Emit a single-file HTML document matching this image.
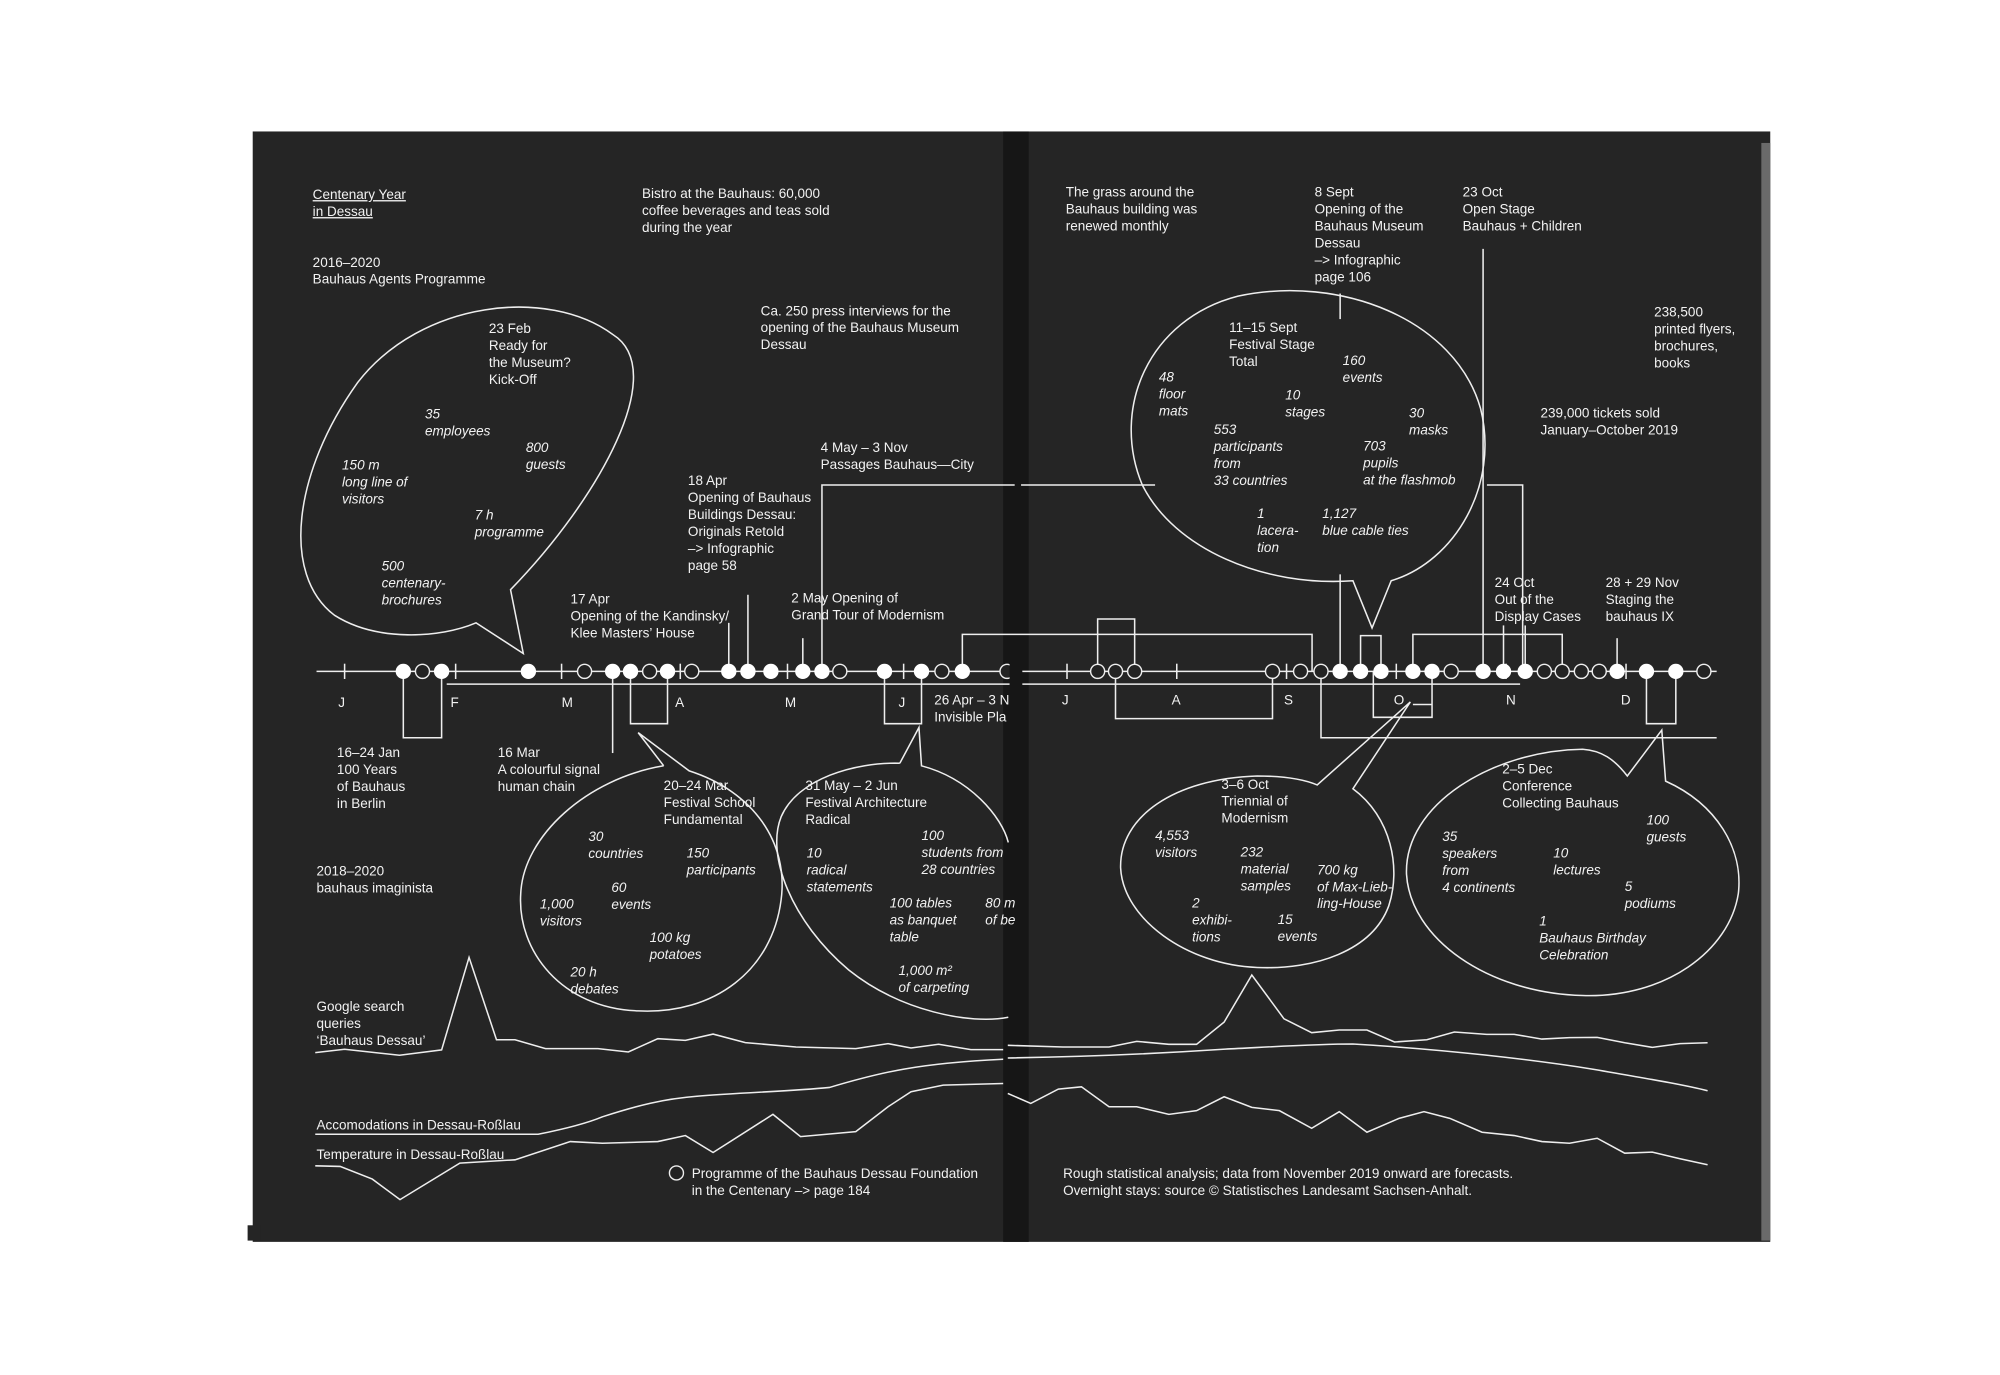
<!DOCTYPE html>
<html><head><meta charset="utf-8"><style>
html,body{margin:0;padding:0;background:#fff;width:2000px;height:1375px;overflow:hidden}
svg{display:block}
text{font-family:"Liberation Sans",Arial,sans-serif;font-size:10.6px;fill:#f2f2f2}
.i{font-style:italic}
.l{fill:none;stroke:#eee;stroke-width:1.2}
.f{fill:#fff;stroke:#fff;stroke-width:1}
.o{fill:#232323;stroke:#eee;stroke-width:1.1}
</style></head><body>
<svg width="2000" height="1375" viewBox="0 0 1567 1077.3" preserveAspectRatio="none" xmlns="http://www.w3.org/2000/svg">
<rect x="198" y="103" width="1189" height="870" fill="#252525"/>
<rect x="194" y="960" width="10" height="12" fill="#252525"/>
<rect x="1380" y="112" width="7" height="860" fill="#6a6a6a"/>
<rect x="786" y="103" width="20" height="870" fill="#161616"/>

<text x="245" y="156" text-decoration="underline"><tspan x="245">Centenary Year</tspan><tspan x="245" dy="13.3">in Dessau</tspan></text>
<text x="245" y="209"><tspan x="245">2016–2020</tspan><tspan x="245" dy="13.3">Bauhaus Agents Programme</tspan></text>
<text x="503" y="155"><tspan x="503">Bistro at the Bauhaus: 60,000</tspan><tspan x="503" dy="13.3">coffee beverages and teas sold</tspan><tspan x="503" dy="13.3">during the year</tspan></text>
<text x="596" y="247"><tspan x="596">Ca. 250 press interviews for the</tspan><tspan x="596" dy="13.3">opening of the Bauhaus Museum</tspan><tspan x="596" dy="13.3">Dessau</tspan></text>
<text x="383" y="261"><tspan x="383">23 Feb</tspan><tspan x="383" dy="13.3">Ready for</tspan><tspan x="383" dy="13.3">the Museum?</tspan><tspan x="383" dy="13.3">Kick-Off</tspan></text>
<text class="i" x="333" y="328"><tspan x="333">35</tspan><tspan x="333" dy="13.3">employees</tspan></text>
<text class="i" x="412" y="354"><tspan x="412">800</tspan><tspan x="412" dy="13.3">guests</tspan></text>
<text class="i" x="268" y="368"><tspan x="268">150 m</tspan><tspan x="268" dy="13.3">long line of</tspan><tspan x="268" dy="13.3">visitors</tspan></text>
<text class="i" x="372" y="407"><tspan x="372">7 h</tspan><tspan x="372" dy="13.3">programme</tspan></text>
<text class="i" x="299" y="447"><tspan x="299">500</tspan><tspan x="299" dy="13.3">centenary-</tspan><tspan x="299" dy="13.3">brochures</tspan></text>
<text x="643" y="354"><tspan x="643">4 May – 3 Nov</tspan><tspan x="643" dy="13.3">Passages Bauhaus—City</tspan></text>
<text x="539" y="380"><tspan x="539">18 Apr</tspan><tspan x="539" dy="13.3">Opening of Bauhaus</tspan><tspan x="539" dy="13.3">Buildings Dessau:</tspan><tspan x="539" dy="13.3">Originals Retold</tspan><tspan x="539" dy="13.3">–&gt; Infographic</tspan><tspan x="539" dy="13.3">page 58</tspan></text>
<text x="447" y="473"><tspan x="447">17 Apr</tspan><tspan x="447" dy="13.3">Opening of the Kandinsky/</tspan><tspan x="447" dy="13.3">Klee Masters’ House</tspan></text>
<text x="620" y="472"><tspan x="620">2 May Opening of</tspan><tspan x="620" dy="13.3">Grand Tour of Modernism</tspan></text>
<text x="732" y="552"><tspan x="732">26 Apr – 3 N</tspan><tspan x="732" dy="13.3">Invisible Pla</tspan></text>
<text x="264" y="593"><tspan x="264">16–24 Jan</tspan><tspan x="264" dy="13.3">100 Years</tspan><tspan x="264" dy="13.3">of Bauhaus</tspan><tspan x="264" dy="13.3">in Berlin</tspan></text>
<text x="390" y="593"><tspan x="390">16 Mar</tspan><tspan x="390" dy="13.3">A colourful signal</tspan><tspan x="390" dy="13.3">human chain</tspan></text>
<text x="248" y="686"><tspan x="248">2018–2020</tspan><tspan x="248" dy="13.3">bauhaus imaginista</tspan></text>
<text x="520" y="619"><tspan x="520">20–24 Mar</tspan><tspan x="520" dy="13.3">Festival School</tspan><tspan x="520" dy="13.3">Fundamental</tspan></text>
<text class="i" x="461" y="659"><tspan x="461">30</tspan><tspan x="461" dy="13.3">countries</tspan></text>
<text class="i" x="538" y="672"><tspan x="538">150</tspan><tspan x="538" dy="13.3">participants</tspan></text>
<text class="i" x="479" y="699"><tspan x="479">60</tspan><tspan x="479" dy="13.3">events</tspan></text>
<text class="i" x="423" y="712"><tspan x="423">1,000</tspan><tspan x="423" dy="13.3">visitors</tspan></text>
<text class="i" x="509" y="738"><tspan x="509">100 kg</tspan><tspan x="509" dy="13.3">potatoes</tspan></text>
<text class="i" x="447" y="765"><tspan x="447">20 h</tspan><tspan x="447" dy="13.3">debates</tspan></text>
<text x="631" y="619"><tspan x="631">31 May – 2 Jun</tspan><tspan x="631" dy="13.3">Festival Architecture</tspan><tspan x="631" dy="13.3">Radical</tspan></text>
<text class="i" x="722" y="658"><tspan x="722">100</tspan><tspan x="722" dy="13.3">students from</tspan><tspan x="722" dy="13.3">28 countries</tspan></text>
<text class="i" x="632" y="672"><tspan x="632">10</tspan><tspan x="632" dy="13.3">radical</tspan><tspan x="632" dy="13.3">statements</tspan></text>
<text class="i" x="697" y="711"><tspan x="697">100 tables</tspan><tspan x="697" dy="13.3">as banquet</tspan><tspan x="697" dy="13.3">table</tspan></text>
<text class="i" x="772" y="711"><tspan x="772">80 m</tspan><tspan x="772" dy="13.3">of be</tspan></text>
<text class="i" x="704" y="764"><tspan x="704">1,000 m²</tspan><tspan x="704" dy="13.3">of carpeting</tspan></text>
<text x="248" y="792"><tspan x="248">Google search</tspan><tspan x="248" dy="13.3">queries</tspan><tspan x="248" dy="13.3">‘Bauhaus Dessau’</tspan></text>
<text x="248" y="885">Accomodations in Dessau-Roßlau</text>
<text x="248" y="908">Temperature in Dessau-Roßlau</text>
<circle cx="530" cy="919" r="5.5" class="o"/>
<text x="542" y="923"><tspan x="542">Programme of the Bauhaus Dessau Foundation</tspan><tspan x="542" dy="13.3">in the Centenary –&gt; page 184</tspan></text>

<text x="835" y="154"><tspan x="835">The grass around the</tspan><tspan x="835" dy="13.3">Bauhaus building was</tspan><tspan x="835" dy="13.3">renewed monthly</tspan></text>
<text x="1030" y="154"><tspan x="1030">8 Sept</tspan><tspan x="1030" dy="13.3">Opening of the</tspan><tspan x="1030" dy="13.3">Bauhaus Museum</tspan><tspan x="1030" dy="13.3">Dessau</tspan><tspan x="1030" dy="13.3">–&gt; Infographic</tspan><tspan x="1030" dy="13.3">page 106</tspan></text>
<text x="1146" y="154"><tspan x="1146">23 Oct</tspan><tspan x="1146" dy="13.3">Open Stage</tspan><tspan x="1146" dy="13.3">Bauhaus + Children</tspan></text>
<text x="1296" y="248"><tspan x="1296">238,500</tspan><tspan x="1296" dy="13.3">printed flyers,</tspan><tspan x="1296" dy="13.3">brochures,</tspan><tspan x="1296" dy="13.3">books</tspan></text>
<text x="1207" y="327"><tspan x="1207">239,000 tickets sold</tspan><tspan x="1207" dy="13.3">January–October 2019</tspan></text>
<text x="963" y="260"><tspan x="963">11–15 Sept</tspan><tspan x="963" dy="13.3">Festival Stage</tspan><tspan x="963" dy="13.3">Total</tspan></text>
<text class="i" x="1052" y="286"><tspan x="1052">160</tspan><tspan x="1052" dy="13.3">events</tspan></text>
<text class="i" x="908" y="299"><tspan x="908">48</tspan><tspan x="908" dy="13.3">floor</tspan><tspan x="908" dy="13.3">mats</tspan></text>
<text class="i" x="1007" y="313"><tspan x="1007">10</tspan><tspan x="1007" dy="13.3">stages</tspan></text>
<text class="i" x="1104" y="327"><tspan x="1104">30</tspan><tspan x="1104" dy="13.3">masks</tspan></text>
<text class="i" x="951" y="340"><tspan x="951">553</tspan><tspan x="951" dy="13.3">participants</tspan><tspan x="951" dy="13.3">from</tspan><tspan x="951" dy="13.3">33 countries</tspan></text>
<text class="i" x="1068" y="353"><tspan x="1068">703</tspan><tspan x="1068" dy="13.3">pupils</tspan><tspan x="1068" dy="13.3">at the flashmob</tspan></text>
<text class="i" x="985" y="406"><tspan x="985">1</tspan><tspan x="985" dy="13.3">lacera-</tspan><tspan x="985" dy="13.3">tion</tspan></text>
<text class="i" x="1036" y="406"><tspan x="1036">1,127</tspan><tspan x="1036" dy="13.3">blue cable ties</tspan></text>
<text x="1171" y="460"><tspan x="1171">24 Oct</tspan><tspan x="1171" dy="13.3">Out of the</tspan><tspan x="1171" dy="13.3">Display Cases</tspan></text>
<text x="1258" y="460"><tspan x="1258">28 + 29 Nov</tspan><tspan x="1258" dy="13.3">Staging the</tspan><tspan x="1258" dy="13.3">bauhaus IX</tspan></text>
<text x="957" y="618"><tspan x="957">3–6 Oct</tspan><tspan x="957" dy="13.3">Triennial of</tspan><tspan x="957" dy="13.3">Modernism</tspan></text>
<text class="i" x="905" y="658"><tspan x="905">4,553</tspan><tspan x="905" dy="13.3">visitors</tspan></text>
<text class="i" x="972" y="671"><tspan x="972">232</tspan><tspan x="972" dy="13.3">material</tspan><tspan x="972" dy="13.3">samples</tspan></text>
<text class="i" x="1032" y="685"><tspan x="1032">700 kg</tspan><tspan x="1032" dy="13.3">of Max-Lieb-</tspan><tspan x="1032" dy="13.3">ling-House</tspan></text>
<text class="i" x="934" y="711"><tspan x="934">2</tspan><tspan x="934" dy="13.3">exhibi-</tspan><tspan x="934" dy="13.3">tions</tspan></text>
<text class="i" x="1001" y="724"><tspan x="1001">15</tspan><tspan x="1001" dy="13.3">events</tspan></text>
<text x="1177" y="606"><tspan x="1177">2–5 Dec</tspan><tspan x="1177" dy="13.3">Conference</tspan><tspan x="1177" dy="13.3">Collecting Bauhaus</tspan></text>
<text class="i" x="1290" y="646"><tspan x="1290">100</tspan><tspan x="1290" dy="13.3">guests</tspan></text>
<text class="i" x="1130" y="659"><tspan x="1130">35</tspan><tspan x="1130" dy="13.3">speakers</tspan><tspan x="1130" dy="13.3">from</tspan><tspan x="1130" dy="13.3">4 continents</tspan></text>
<text class="i" x="1217" y="672"><tspan x="1217">10</tspan><tspan x="1217" dy="13.3">lectures</tspan></text>
<text class="i" x="1273" y="698"><tspan x="1273">5</tspan><tspan x="1273" dy="13.3">podiums</tspan></text>
<text class="i" x="1206" y="725"><tspan x="1206">1</tspan><tspan x="1206" dy="13.3">Bauhaus Birthday</tspan><tspan x="1206" dy="13.3">Celebration</tspan></text>
<text x="833" y="923"><tspan x="833">Rough statistical analysis; data from November 2019 onward are forecasts.</tspan><tspan x="833" dy="13.3">Overnight stays: source © Statistisches Landesamt Sachsen-Anhalt.</tspan></text>

<g>
<text x="265" y="554">J</text><text x="353" y="554">F</text><text x="440" y="554">M</text><text x="529" y="554">A</text><text x="615" y="554">M</text><text x="704" y="554">J</text>
<text x="832" y="552">J</text><text x="918" y="552">A</text><text x="1006" y="552">S</text><text x="1092" y="552">O</text><text x="1180" y="552">N</text><text x="1270" y="552">D</text>
</g>

<path class="l" d="M400,462 C470,390 525,290 480,262 C430,225 330,235 280,300 C230,370 220,450 262,482 C295,503 345,500 373,488 L410,512 Z"/>
<path class="l" d="M520,600 L500,574 L540,604 C590,620 618,660 612,705 C605,760 560,795 500,792 C440,790 405,745 408,700 C410,655 460,610 520,600"/>
<path class="l" d="M705,598 L720,570 L722,600 C760,610 785,640 790,660 M790,797 C760,803 705,792 665,760 C620,722 600,670 612,640 C625,610 670,597 705,598"/>
<path class="l" d="M1060,455 C990,460 920,430 895,380 C870,320 900,250 970,232 C1050,215 1140,250 1160,320 C1175,380 1140,440 1090,455 L1075,492 Z"/>
<path class="l" d="M1060,618 C1090,640 1098,680 1088,710 C1075,745 1030,760 985,758 C930,756 880,720 878,680 C877,640 920,610 985,608 C1005,608 1020,610 1032,615 L1105,550 Z"/>
<path class="l" d="M1305,612 C1345,630 1366,665 1362,700 C1355,745 1305,782 1240,780 C1165,778 1105,735 1102,685 C1100,630 1170,588 1240,587 C1255,588 1265,595 1275,608 L1302,572 Z"/>

<g class="l">
<line x1="248" y1="526" x2="1345" y2="526"/>
<polyline points="316,526 316,578 346,578 346,526"/>
<line x1="350" y1="536" x2="1191" y2="536"/>
<line x1="480" y1="526" x2="480" y2="590"/>
<polyline points="494,526 494,567 523,567 523,526"/>
<polyline points="693,526 693,567 722,567 722,526"/>
<line x1="571" y1="488" x2="571" y2="526"/>
<line x1="586" y1="466" x2="586" y2="526"/>
<line x1="629" y1="500" x2="629" y2="526"/>
<polyline points="644,526 644,380 795,380"/>
<line x1="800" y1="380" x2="905" y2="380"/>
<polyline points="754,526 754,497 1028,497 1028,526"/>
<polyline points="860,526 860,485 889,485 889,526"/>
<polyline points="874,526 874,563 997,563 997,526"/>
<polyline points="1035,526 1035,578 1345,578"/>
<line x1="1050" y1="230" x2="1050" y2="250"/>
<line x1="1050" y1="450" x2="1050" y2="526"/>
<polyline points="1066,526 1066,498 1082,498 1082,526"/>
<polyline points="1107,526 1107,497 1224,497 1224,526"/>
<polyline points="1076,526 1076,562 1122,562 1122,526"/>
<line x1="1107" y1="552" x2="1122" y2="552"/>
<line x1="1162" y1="195" x2="1162" y2="526"/>
<line x1="1178" y1="490" x2="1178" y2="526"/>
<line x1="1195" y1="490" x2="1195" y2="526"/>
<polyline points="1165,380 1193,380 1193,526"/>
<line x1="1267" y1="500" x2="1267" y2="526"/>
<polyline points="1290,526 1290,567 1313,567 1313,526"/>
<line x1="270" y1="520" x2="270" y2="532"/><line x1="357" y1="520" x2="357" y2="532"/><line x1="440" y1="520" x2="440" y2="532"/>
<line x1="533" y1="520" x2="533" y2="532"/><line x1="617" y1="520" x2="617" y2="532"/><line x1="708" y1="520" x2="708" y2="532"/>
<line x1="836" y1="520" x2="836" y2="532"/><line x1="922" y1="520" x2="922" y2="532"/><line x1="1008" y1="520" x2="1008" y2="532"/>
<line x1="1094" y1="520" x2="1094" y2="532"/><line x1="1180" y1="520" x2="1180" y2="532"/><line x1="1274" y1="520" x2="1274" y2="532"/>
</g>

<g>
<circle class="f" cx="316" cy="526" r="5.5"/><circle class="o" cx="331" cy="526" r="5.5"/><circle class="f" cx="346" cy="526" r="5.5"/>
<circle class="f" cx="414" cy="526" r="5.5"/><circle class="o" cx="458" cy="526" r="5.5"/><circle class="f" cx="480" cy="526" r="5.5"/>
<circle class="f" cx="494" cy="526" r="5.5"/><circle class="o" cx="509" cy="526" r="5.5"/><circle class="f" cx="523" cy="526" r="5.5"/>
<circle class="o" cx="542" cy="526" r="5.5"/><circle class="f" cx="571" cy="526" r="5.5"/><circle class="f" cx="586" cy="526" r="5.5"/>
<circle class="f" cx="604" cy="526" r="5.5"/><circle class="f" cx="629" cy="526" r="5.5"/><circle class="f" cx="644" cy="526" r="5.5"/>
<circle class="o" cx="658" cy="526" r="5.5"/><circle class="f" cx="693" cy="526" r="5.5"/><circle class="f" cx="722" cy="526" r="5.5"/>
<circle class="o" cx="738" cy="526" r="5.5"/><circle class="f" cx="754" cy="526" r="5.5"/><circle class="o" cx="789" cy="526" r="5.5"/>
<circle class="o" cx="860" cy="526" r="5.5"/><circle class="o" cx="874" cy="526" r="5.5"/><circle class="o" cx="889" cy="526" r="5.5"/>
<circle class="o" cx="997" cy="526" r="5.5"/><circle class="o" cx="1019" cy="526" r="5.5"/><circle class="o" cx="1035" cy="526" r="5.5"/>
<circle class="f" cx="1050" cy="526" r="5.5"/><circle class="f" cx="1066" cy="526" r="5.5"/><circle class="f" cx="1082" cy="526" r="5.5"/>
<circle class="f" cx="1107" cy="526" r="5.5"/><circle class="f" cx="1122" cy="526" r="5.5"/><circle class="o" cx="1137" cy="526" r="5.5"/>
<circle class="f" cx="1162" cy="526" r="5.5"/><circle class="f" cx="1178" cy="526" r="5.5"/><circle class="f" cx="1195" cy="526" r="5.5"/>
<circle class="o" cx="1210" cy="526" r="5.5"/><circle class="o" cx="1224" cy="526" r="5.5"/><circle class="o" cx="1239" cy="526" r="5.5"/>
<circle class="o" cx="1253" cy="526" r="5.5"/><circle class="f" cx="1267" cy="526" r="5.5"/><circle class="f" cx="1290" cy="526" r="5.5"/>
<circle class="f" cx="1313" cy="526" r="5.5"/><circle class="o" cx="1335" cy="526" r="5.5"/>
</g>
<rect x="791" y="510" width="10" height="35" fill="#161616"/>

<g class="l">
<polyline points="247,824.7 270,822.1 313,826.8 346,822.6 367.5,750.1 389,814.6 403.5,814.6 427.4,821.6 468.5,821.6 492.3,824.2 515.4,813.8 537,815.1 558.7,810.2 584,816.9 623.6,820.3 670.5,821.6 695.8,817.7 713.8,821.1 735.4,818.2 760.7,822.4 786,822.4"/>
<polyline points="789.6,819 832.8,820.3 868.9,820.3 890.6,815.9 915.8,818.2 937.5,818.2 959.1,800.8 980.8,763.9 1006,798.2 1027.7,809.1 1049.3,807 1071,807 1092.6,816.4 1117.9,814.6 1139.5,808.6 1164.8,810.4 1186.4,810.4 1208.1,814.1 1229.7,813 1251.4,812.8 1273,817 1294.6,820.6 1316.3,817.7 1337.9,817"/>
<path d="M247,888.7 L421.6,888.7 C445,884 460,880 472,875 C500,866 520,861 545,859 C580,856 620,855 650,852 C690,840 720,833 786,829.9"/>
<path d="M789.6,828.9 C850,828 900,826 960,822 C1000,820 1030,818 1060,818 C1130,822 1200,830 1250,838 C1290,845 1320,850 1337.9,854.6"/>
<polyline points="247,913.4 266.5,913.9 291.7,923.8 313.4,939.9 360.3,911.3 403.5,908.7 446.8,894.4 472,895.7 515.4,894.4 537,889.7 558.7,903 605.6,873.1 627.2,890.5 670.5,886.6 695.8,867.1 713.8,855.4 739,850.2 786,848.9"/>
<polyline points="789.6,856.7 807.6,864.5 829.2,853.3 847.3,851.5 868.9,867.1 890.6,867.1 915.8,873.1 937.5,870.2 959.1,859.3 980.8,867.6 1002.4,870.2 1027.7,884 1049.3,871 1071,887.1 1096.2,876.2 1115.7,871 1135.9,876.2 1161.2,887.1 1186.4,889.7 1208.1,894.4 1229.7,895.7 1251.4,891.8 1273,903.5 1294.6,902.7 1316.3,907.9 1337.9,912.6"/>
</g>
</svg>
</body></html>
